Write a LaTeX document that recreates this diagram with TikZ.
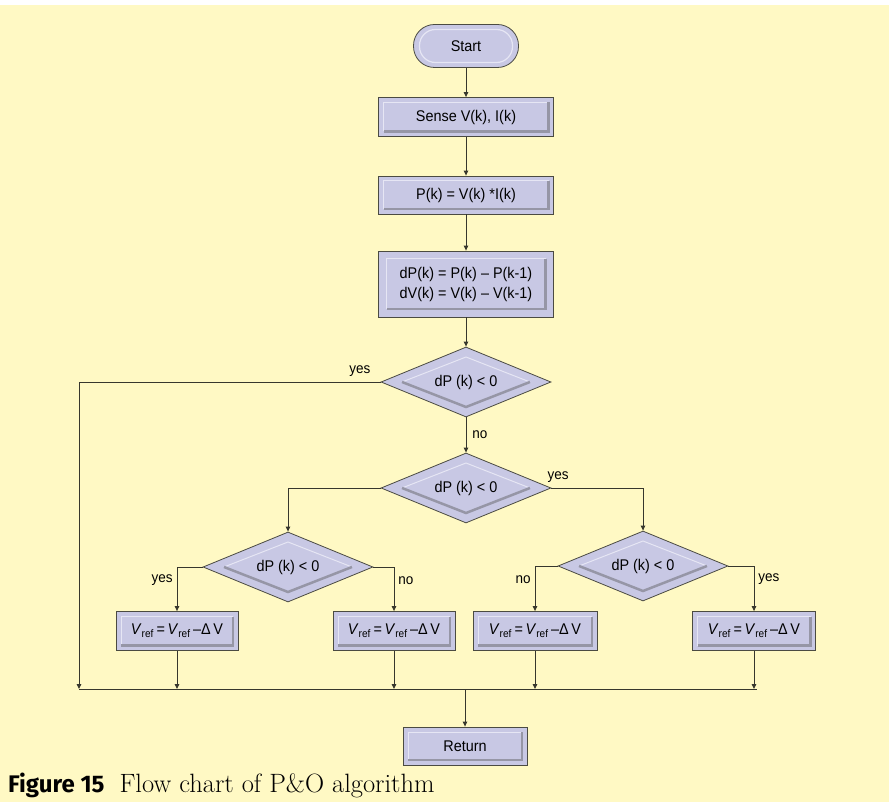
\documentclass[tikz,border=0pt]{standalone}
\usepackage{fontspec}
\usetikzlibrary{shapes.geometric,arrows.meta,positioning}
\newfontfamily\chartfont[FakeStretch=0.93]{Liberation Sans}
\newfontfamily\capfont{Fira Sans}
\definecolor{paper}{RGB}{255,249,196}
\definecolor{lav}{RGB}{200,200,228}
\definecolor{bevlight}{RGB}{230,230,244}
\definecolor{bevdark}{RGB}{150,150,166}
\definecolor{wire}{RGB}{55,55,45}
\newcommand{\vrefsym}{\textit{V}\textsubscript{ref}}
\newcommand{\vupdate}{\vrefsym\,=\,\vrefsym\,–Δ\,V}
\tikzset{
  line/.style={draw=wire, line width=0.9pt},
  flow/.style={line, -{Triangle[length=5pt,width=4.5pt]}},
  lbl/.style={font=\chartfont\fontsize{14.5}{16}\selectfont, inner sep=4pt},
  bevel/.style={path picture={
      \draw[bevlight, line width=1pt]
        ([shift={(#1,#1)}]path picture bounding box.south west)
        |- ([shift={(-#1,-#1)}]path picture bounding box.north east);
      \draw[bevdark, line width=2.5pt]
        ([shift={(#1,#1)}]path picture bounding box.south west)
        -| ([shift={(-#1,-#1)}]path picture bounding box.north east);
    }},
  box/.style={rectangle, draw=wire!90, line width=0.8pt, fill=lav,
    minimum width=122pt, minimum height=39pt, inner sep=0pt,
    font=\chartfont\fontsize{15.5}{20}\selectfont, align=center, bevel=5pt},
  wide/.style={box, minimum width=175pt},
  terminal/.style={rectangle, rounded corners=21pt, draw=wire!90, line width=0.8pt,
    fill=lav, minimum width=105pt, minimum height=43pt, inner sep=0pt,
    font=\chartfont\fontsize{15.5}{17}\selectfont,
    path picture={
      \draw[bevlight, line width=1.2pt, rounded corners=16pt]
        ([shift={(6pt,5pt)}]path picture bounding box.south west)
        rectangle ([shift={(-6pt,-5pt)}]path picture bounding box.north east);
    }},
  decision/.style={diamond, aspect=2.4, draw=wire!90, line width=0.8pt, fill=lav,
    minimum width=170pt, minimum height=70pt, inner sep=0pt,
    font=\chartfont\fontsize{15.5}{17}\selectfont,
    path picture={
      \draw[bevlight, line width=1pt]
        ([xshift=-64pt]path picture bounding box.center)
        -- ([yshift=25pt]path picture bounding box.center)
        -- ([xshift=64pt]path picture bounding box.center);
      \draw[bevdark, line width=2.5pt]
        ([xshift=64pt]path picture bounding box.center)
        -- ([yshift=-25pt]path picture bounding box.center)
        -- ([xshift=-64pt]path picture bounding box.center);
    }},
}
\begin{document}
\begin{tikzpicture}[x=1pt, y=-1pt]
  % page
  \useasboundingbox (0,0) rectangle (889,802);
  \fill[white] (0,0) rectangle (889,802);
  \fill[paper] (0,5) rectangle (889,802);

  % main column
  \node[terminal] (start) at (466,46) {Start};
  \node[wide] (sense) at (466,117) {Sense V(k), I(k)};
  \node[wide, minimum height=38pt] (power) at (466,195) {P(k) = V(k) *I(k)};
  \node[wide, minimum height=66pt, bevel=8pt] (diff) at (466,284)
    {dP(k) = P(k) – P(k-1)\\dV(k) = V(k) – V(k-1)};
  \node[decision] (dec1) at (466,382) {dP (k) < 0};
  \node[decision] (dec2) at (466,488) {dP (k) < 0};
  \node[decision] (dec3) at (288,567) {dP (k) < 0};
  \node[decision] (dec4) at (643,566) {dP (k) < 0};

  % updates
  \node[box] (upd1) at (177,631) {\vupdate};
  \node[box] (upd2) at (394,631) {\vupdate};
  \node[box, minimum width=124pt] (upd3) at (535,631) {\vupdate};
  \node[box, minimum width=123pt] (upd4) at (754,631) {\vupdate};
  \node[box, minimum width=124pt, minimum height=38pt] (ret) at (465,746) {Return};

  \coordinate (busL) at (79,689);
  \coordinate (busR) at (757,689);

  % connectors
  \draw[flow] (start) -- (sense);
  \draw[flow] (sense) -- (power);
  \draw[flow] (power) -- (diff);
  \draw[flow] (diff) -- (dec1);
  \draw[flow] (dec1.west) -| (busL);
  \node[lbl, anchor=south east] at ([shift={(-6pt,1pt)}]dec1.west) {yes};
  \draw[flow] (dec1) -- node[lbl, right, xshift=2pt] {no} (dec2);
  \draw[flow] (dec2.west) -| (dec3);
  \draw[flow] (dec2.east) -| (dec4);
  \node[lbl, anchor=south west] at ([shift={(-8pt,1pt)}]dec2.east) {yes};
  \draw[flow] (dec3.west) -| node[lbl, left, pos=0.65] {yes} (upd1);
  \draw[flow] (dec3.east) -| node[lbl, right, pos=0.65] {no} (upd2);
  \draw[flow] (dec4.west) -| node[lbl, left, pos=0.65] {no} (upd3);
  \draw[flow] (dec4.east) -| node[lbl, right, pos=0.65] {yes} (upd4);
  \foreach \n in {upd1,upd2,upd3,upd4}
    \draw[flow] (\n) -- (\n |- busL);
  \draw[line] (busL) -- (busR);
  \draw[flow] (ret |- busL) -- (ret);

  % caption strip
  \fill[paper] (0,766) rectangle (889,802);
  \node[anchor=base west, inner sep=0pt] (caption) at (8,792)
    {{\capfont\bfseries\fontsize{24}{27}\selectfont Figure 15}\hspace{15pt}%
     {\fontsize{26.5}{30}\selectfont Flow chart of P\&O algorithm}};
\end{tikzpicture}
\end{document}
